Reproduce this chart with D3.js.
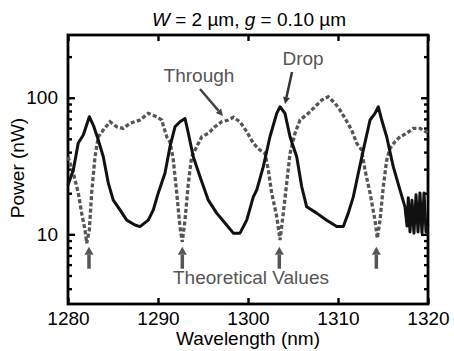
<!DOCTYPE html>
<meta charset="utf-8">
<style>
    body { margin: 0; background: #fff; }
    svg text { font-family: "Liberation Sans", Arial, sans-serif; }
    .tick text { font-size: 19px; fill: #000; }
</style>
<body>
<script src="https://d3js.org/d3.v7.min.js"></script>
<script>
    // drop port spectrum (solid)
    let dropWl = [1280.0, 1280.59, 1281.14, 1281.70, 1282.37, 1282.81, 1283.37, 1283.92, 1284.48, 1285.03,
        1285.78, 1286.52, 1287.44, 1288.0, 1288.92, 1289.48, 1290.03, 1290.78, 1291.33, 1291.89,
        1292.44, 1293.0, 1293.37, 1293.92, 1294.67, 1295.59, 1296.52, 1297.44, 1298.37, 1299.11,
        1299.86, 1300.59, 1300.97, 1301.70, 1302.44, 1303.19, 1303.56, 1304.11, 1304.67, 1305.41,
        1305.97, 1306.52, 1307.63, 1308.74, 1309.86, 1310.59, 1311.14, 1311.70, 1312.26, 1312.81,
        1313.56, 1314.11, 1314.48, 1314.86, 1315.41, 1316.14, 1316.89, 1317.44, 1317.67, 1317.81,
        1318.0, 1318.22, 1318.44, 1318.67, 1318.89, 1319.11, 1319.33, 1319.56, 1319.78, 1320.0];
    let dropPw = [23.0, 29.6, 46.6, 53.3, 72.6, 63.1, 49.0, 37.0, 23.7, 17.8,
        15.1, 12.7, 11.7, 11.4, 12.7, 15.1, 20.1, 28.1, 43.8, 61.3,
        66.7, 70.5, 55.0, 37.0, 26.4, 17.8, 14.3, 12.1, 10.2, 10.2,
        12.7, 18.8, 21.1, 31.3, 51.8, 76.9, 85.9, 76.9, 51.8, 37.0,
        22.3, 15.9, 14.3, 12.7, 11.4, 11.4, 14.3, 18.8, 28.1, 41.4,
        68.7, 76.9, 85.9, 68.7, 51.8, 31.3, 21.1, 15.9, 11.5, 18.5,
        10.4, 17.8, 10.2, 19.5, 10.4, 20.1, 10.2, 20.1, 10.4, 11.7];

    // through port spectrum (dashed)
    let thruWl = [1280.0, 1280.59, 1281.14, 1281.52, 1281.89, 1282.08, 1282.37, 1282.63, 1283.0, 1283.37,
        1283.92, 1284.67, 1285.41, 1286.14, 1286.89, 1288.0, 1288.92, 1289.86, 1290.41, 1290.97,
        1291.33, 1291.70, 1292.08, 1292.44, 1292.70, 1293.0, 1293.37, 1293.74, 1294.30, 1294.86,
        1295.59, 1296.33, 1297.08, 1297.81, 1298.37, 1299.11, 1299.86, 1300.59, 1301.33, 1301.89,
        1302.26, 1302.63, 1303.19, 1303.56, 1303.92, 1304.30, 1304.67, 1305.22, 1305.78, 1306.70,
        1307.44, 1308.19, 1308.92, 1309.67, 1310.22, 1310.78, 1311.52, 1312.08, 1312.63, 1313.0,
        1313.56, 1314.11, 1314.37, 1314.67, 1315.03, 1315.41, 1315.78, 1316.33, 1316.89, 1317.63,
        1318.37, 1319.11, 1319.78, 1320.0];
    let thruPw = [37.0, 28.1, 20.1, 14.3, 10.75, 8.6, 10.75, 20.1, 37.0, 51.8,
        58.0, 66.7, 61.3, 59.7, 65.0, 68.7, 76.9, 72.6, 68.7, 51.8,
        47.6, 35.0, 20.1, 11.4, 8.8, 12.7, 23.7, 37.0, 43.8, 51.8,
        54.9, 61.3, 66.7, 68.7, 72.0, 66.7, 56.4, 46.4, 41.4, 39.2,
        29.6, 20.1, 13.5, 9.1, 14.3, 23.7, 39.2, 54.9, 68.7, 76.9,
        85.9, 96.2, 101.7, 91.0, 81.3, 70.7, 58.0, 46.4, 41.4, 29.6,
        20.1, 12.7, 9.35, 12.7, 22.3, 35.0, 42.6, 47.6, 51.8, 54.9,
        59.7, 59.7, 56.4, 58.0];

    // theoretical resonance positions (arrows)
    let theoryWl = [1282.33, 1292.70, 1303.48, 1314.26];

    let xTicks = [1280, 1290, 1300, 1310, 1320];
    let yMajor = [10, 100];
    let yMinor = [4, 5, 6, 7, 8, 9, 20, 30, 40, 50, 60, 70, 80, 90, 200];

    let width = 454, height = 351;
    let mLeft = 68, mRight = 428, mTop = 35, mBottom = 304;

    let svg = d3.select("body").append("svg")
        .attr("width", width)
        .attr("height", height);

    let x = d3.scaleLinear().domain([1280, 1320]).range([mLeft, mRight]);
    let y = d3.scaleLog().domain([3.09, 288]).range([mBottom, mTop]);

    // axes, ticks pointing inward
    svg.append("g").attr("transform", "translate(0," + mBottom + ")")
        .call(d3.axisBottom(x).tickValues(xTicks).tickSize(-6).tickPadding(8).tickFormat(d3.format("d")));
    svg.append("g").attr("transform", "translate(0," + mTop + ")")
        .call(d3.axisTop(x).tickValues(xTicks).tickSize(-6).tickFormat(""));
    svg.append("g").attr("transform", "translate(" + mLeft + ",0)")
        .call(d3.axisLeft(y).tickValues(yMajor).tickSize(-7).tickPadding(10).tickFormat(d3.format("d")));
    svg.append("g").attr("transform", "translate(" + mLeft + ",0)")
        .call(d3.axisLeft(y).tickValues(yMinor).tickSize(-4).tickFormat(""));
    svg.append("g").attr("transform", "translate(" + mRight + ",0)")
        .call(d3.axisRight(y).tickValues(yMajor).tickSize(-7).tickFormat(""));
    svg.append("g").attr("transform", "translate(" + mRight + ",0)")
        .call(d3.axisRight(y).tickValues(yMinor).tickSize(-4).tickFormat(""));
    svg.selectAll(".domain").remove();
    svg.selectAll("g").attr("font-family", null).attr("font-size", null);
    svg.selectAll(".tick line").attr("stroke", "#000").attr("stroke-width", 2.4);

    // frame
    svg.append("rect")
        .attr("x", mLeft).attr("y", mTop)
        .attr("width", mRight - mLeft).attr("height", mBottom - mTop)
        .attr("fill", "none").attr("stroke", "#000").attr("stroke-width", 2.8);

    let line = d3.line()
        .x(function(d) { return x(d[0]); })
        .y(function(d) { return y(d[1]); });

    let thru = d3.zip(thruWl, thruPw);
    let drop = d3.zip(dropWl, dropPw);

    svg.append("path")
        .attr("d", line(thru))
        .attr("fill", "none")
        .attr("stroke", "#555")
        .attr("stroke-width", 3.3)
        .attr("stroke-dasharray", "4,2.3");

    svg.append("path")
        .attr("d", line(drop))
        .attr("fill", "none")
        .attr("stroke", "#111")
        .attr("stroke-width", 3)
        .attr("stroke-linejoin", "round");

    // arrow helper: shaft from (x1,y1) to tip (x2,y2)
    function arrow(x1, y1, x2, y2, color, w, headW, headL) {
        let ang = Math.atan2(y2 - y1, x2 - x1);
        let bx = x2 - headL * Math.cos(ang), by = y2 - headL * Math.sin(ang);
        let px = -Math.sin(ang), py = Math.cos(ang);
        svg.append("line")
            .attr("x1", x1).attr("y1", y1).attr("x2", bx).attr("y2", by)
            .attr("stroke", color).attr("stroke-width", w);
        svg.append("path")
            .attr("d", "M" + x2 + "," + y2 +
                "L" + (bx + px * headW / 2) + "," + (by + py * headW / 2) +
                "L" + (bx - px * headW / 2) + "," + (by - py * headW / 2) + "Z")
            .attr("fill", color);
    }

    theoryWl.forEach(function(d) {
        arrow(x(d), y(5.6), x(d), y(8.1), "#555", 3.5, 9, 8);
    });

    arrow(200, 89, 223, 116, "#444", 2.5, 7, 7);
    arrow(292, 72, 285, 104, "#333", 2.5, 7, 7);

    svg.append("text").attr("x", 199).attr("y", 82)
        .attr("text-anchor", "middle").attr("font-size", 19).attr("fill", "#555")
        .text("Through");
    svg.append("text").attr("x", 303).attr("y", 65)
        .attr("text-anchor", "middle").attr("font-size", 19).attr("fill", "#555")
        .text("Drop");
    svg.append("text").attr("x", 251).attr("y", 284)
        .attr("text-anchor", "middle").attr("font-size", 19).attr("fill", "#555")
        .text("Theoretical Values");

    // title
    let title = svg.append("text").attr("x", 249).attr("y", 26)
        .attr("text-anchor", "middle").attr("font-size", 19);
    title.append("tspan").attr("font-style", "italic").text("W");
    title.append("tspan").text(" = 2 µm, ");
    title.append("tspan").attr("font-style", "italic").text("g");
    title.append("tspan").text(" = 0.10 µm");

    svg.append("text").attr("x", 248).attr("y", 345)
        .attr("text-anchor", "middle").attr("font-size", 19)
        .text("Wavelength (nm)");
    svg.append("text")
        .attr("transform", "translate(24,168) rotate(-90)")
        .attr("text-anchor", "middle").attr("font-size", 19)
        .text("Power (nW)");
</script>
</body>
